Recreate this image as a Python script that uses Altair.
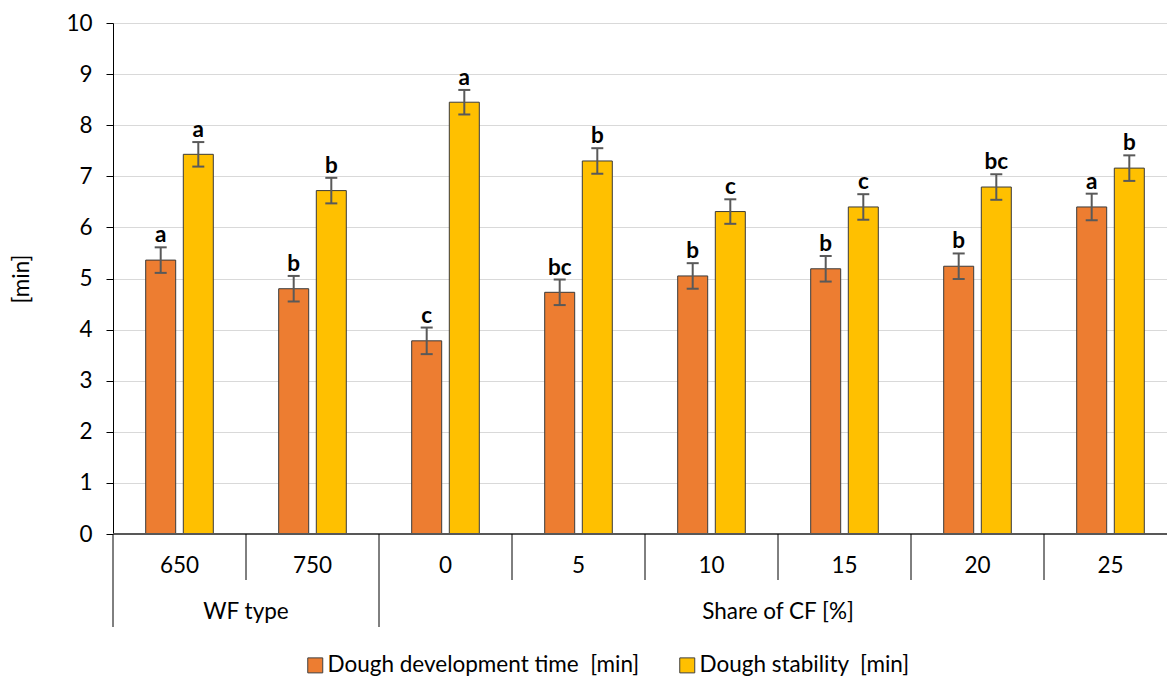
import altair as alt
import pandas as pd

# Categories on the x axis and the group each one belongs to
categories = ["650", "750", "0", "5", "10", "15", "20", "25"]
group_names = ["WF type", "Share of CF [%]"]
group_of = [0, 0, 1, 1, 1, 1, 1, 1]

# A no-break space keeps the double gap before the unit
series = ["Dough development time\u00a0 [min]", "Dough stability\u00a0 [min]"]
colors = ["#ED7D31", "#FFC000"]

# Mean values [min]
dev_time = [5.36, 4.80, 3.78, 4.73, 5.05, 5.19, 5.24, 6.40]
stability = [7.43, 6.72, 8.45, 7.30, 6.31, 6.40, 6.79, 7.16]
# Standard deviations [min]
dev_err = [0.25, 0.25, 0.26, 0.25, 0.25, 0.25, 0.25, 0.26]
stab_err = [0.24, 0.25, 0.24, 0.25, 0.24, 0.25, 0.25, 0.25]
# Homogeneous groups
dev_letters = ["a", "b", "c", "bc", "b", "b", "b", "a"]
stab_letters = ["a", "b", "a", "b", "c", "c", "bc", "b"]

# Layout (pixels)
W, H = 1054, 511
STEP = 133.0          # width of one category slot
BAR_HALF = 15 / STEP  # half bar width in category units
OFFSET = 18.8 / STEP  # distance of each bar from the slot centre
CAP_HALF = 6 / STEP   # half width of the error-bar caps
FONT = "Lato"
FS = 22.5

rows = []
for i, cat in enumerate(categories):
    for s, (vals, errs, lets) in enumerate(
        [(dev_time, dev_err, dev_letters), (stability, stab_err, stab_letters)]
    ):
        c = i + 0.5 + (-OFFSET if s == 0 else OFFSET)
        rows.append(
            dict(
                series=series[s],
                cat=cat,
                center=c,
                x0=c - BAR_HALF,
                x1=c + BAR_HALF,
                cap0=c - CAP_HALF,
                cap1=c + CAP_HALF,
                value=vals[i],
                lo=vals[i] - errs[i],
                hi=vals[i] + errs[i],
                letter=lets[i],
            )
        )
bars_df = pd.DataFrame(rows)

cat_df = pd.DataFrame({"cat": categories, "center": [i + 0.5 for i in range(len(categories))]})

grp_rows = []
for g, name in enumerate(group_names):
    idx = [i for i, gg in enumerate(group_of) if gg == g]
    grp_rows.append(dict(name=name, center=(idx[0] + idx[-1] + 1) / 2, start=idx[0], end=idx[-1] + 1))
grp_df = pd.DataFrame(grp_rows)

long_k = sorted(set(grp_df["start"]).union(grp_df["end"]))
sep_short = pd.DataFrame({"k": [k for k in range(len(categories) + 1) if k not in long_k]})
sep_long = pd.DataFrame({"k": long_k})

xscale = alt.Scale(domain=[0, W / STEP], nice=False, zero=False)
yscale = alt.Scale(domain=[0, 10], nice=False)

base = alt.Chart(bars_df)

bars = base.mark_bar(stroke="#3a3a3a", strokeWidth=1).encode(
    x=alt.X("x0:Q", scale=xscale, axis=None),
    x2="x1:Q",
    y=alt.Y(
        "value:Q",
        scale=yscale,
        axis=alt.Axis(
            values=list(range(11)),
            grid=True,
            gridColor="#d9d9d9",
            gridWidth=1,
            domainColor="black",
            domainWidth=1,
            tickColor="black",
            tickSize=7,
            labelFontSize=FS,
            labelFont=FONT,
            labelColor="black",
            labelPadding=14,
            title="[min]",
            titleFont=FONT,
            titleFontSize=FS,
            titleFontWeight="normal",
            titleColor="black",
            titleX=-92,
            titleY=H / 2,
            titleAngle=270,
            titleAlign="center",
            titleBaseline="middle",
        ),
    ),
    y2=alt.datum(0),
    color=alt.Color(
        "series:N",
        scale=alt.Scale(domain=series, range=colors),
        legend=alt.Legend(
            orient="none",
            legendX=191,
            legendY=631,
            direction="horizontal",
            title=None,
            symbolType="square",
            symbolSize=225,
            symbolStrokeColor="#404040",
            symbolStrokeWidth=1,
            symbolOpacity=1,
            labelFontSize=FS,
            labelFont=FONT,
            labelColor="black",
            labelOffset=1,
            labelLimit=0,
            columnPadding=36,
            padding=0,
        ),
    ),
)

err_line = base.mark_rule(color="#595959", strokeWidth=2).encode(
    x=alt.X("center:Q", scale=xscale), y=alt.Y("lo:Q", scale=yscale), y2="hi:Q"
)
cap_top = base.mark_rule(color="#595959", strokeWidth=2).encode(
    x=alt.X("cap0:Q", scale=xscale), x2="cap1:Q", y=alt.Y("hi:Q", scale=yscale)
)
cap_bot = base.mark_rule(color="#595959", strokeWidth=2).encode(
    x=alt.X("cap0:Q", scale=xscale), x2="cap1:Q", y=alt.Y("lo:Q", scale=yscale)
)

letters = base.mark_text(
    font=FONT, fontSize=FS, fontWeight="bold", baseline="alphabetic", dy=-5, color="black"
).encode(x=alt.X("center:Q", scale=xscale), y=alt.Y("hi:Q", scale=yscale), text="letter:N")

# Category axis line along zero
x_line = alt.Chart(cat_df).mark_rule(color="#595959", strokeWidth=1.3).encode(
    x=alt.value(0), x2=alt.value(W), y=alt.datum(0)
)

# Category separators: short ticks between categories, long ones between groups
sep_s = alt.Chart(sep_short).mark_rule(color="black", strokeWidth=1).encode(
    x=alt.X("k:Q", scale=xscale), y=alt.value(H), y2=alt.value(H + 46)
)
sep_l = alt.Chart(sep_long).mark_rule(color="black", strokeWidth=1).encode(
    x=alt.X("k:Q", scale=xscale), y=alt.value(H), y2=alt.value(H + 93)
)

cat_labels = alt.Chart(cat_df).mark_text(
    font=FONT, fontSize=FS, baseline="alphabetic", color="black"
).encode(x=alt.X("center:Q", scale=xscale), y=alt.value(H + 39), text="cat:N")

grp_labels = alt.Chart(grp_df).mark_text(
    font=FONT, fontSize=FS, baseline="alphabetic", color="black"
).encode(x=alt.X("center:Q", scale=xscale), y=alt.value(H + 85), text="name:N")

chart = (
    alt.layer(bars, err_line, cap_top, cap_bot, letters, x_line, sep_s, sep_l, cat_labels, grp_labels)
    .properties(
        width=W,
        height=H,
        autosize=alt.AutoSizeParams(type="none"),
        padding={"left": 113, "top": 23, "right": 0, "bottom": 143},
    )
    .configure_view(stroke=None)
    .configure(font=FONT)
)

chart.save("out.html", embed_options={"renderer": "svg", "actions": False})
